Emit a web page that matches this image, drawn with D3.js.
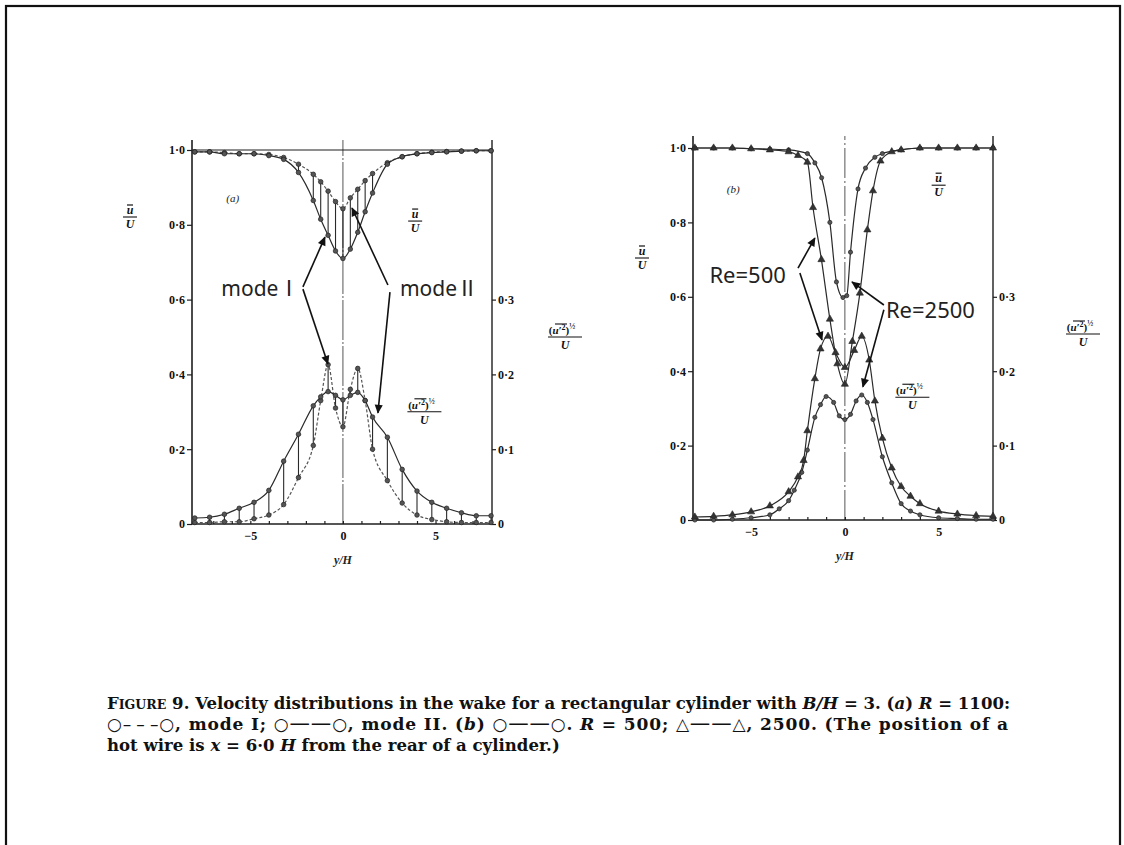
<!DOCTYPE html>
<html>
<head>
<meta charset="utf-8">
<script src="https://cdn.jsdelivr.net/npm/d3@7"></script>
<style>
  html, body { margin: 0; padding: 0; background: #fff; }
  svg { display: block; }
</style>
</head>
<body>
<svg id="fig" width="1124" height="845"></svg>
<script>
// ---------------- data ----------------
// (a) R = 1100, stations across the wake (y/H)
const gridA = [-8, -7.2, -6.4, -5.6, -4.8, -4.0, -3.2, -2.4, -1.6, -1.2, -0.8, -0.4, 0,
               0.4, 0.8, 1.2, 1.6, 2.4, 3.2, 4.0, 4.8, 5.6, 6.4, 7.2, 8];
// mean velocity u/U
const meanDeepA    = [0.995, 0.995, 0.99, 0.99, 0.99, 0.985, 0.975, 0.94, 0.865, 0.815, 0.772, 0.73, 0.71,
                      0.735, 0.78, 0.835, 0.885, 0.962, 0.982, 0.99, 0.993, 0.995, 0.997, 0.998, 0.998];
const meanShallowA = [0.995, 0.995, 0.993, 0.99, 0.99, 0.988, 0.98, 0.962, 0.935, 0.915, 0.89, 0.862, 0.843,
                      0.872, 0.895, 0.918, 0.937, 0.966, 0.982, 0.99, 0.994, 0.996, 0.997, 0.998, 0.998];
// r.m.s. fluctuation (u'^2)^1/2 / U
const flucSolidA   = [0.008, 0.009, 0.013, 0.021, 0.029, 0.045, 0.084, 0.12, 0.158, 0.17, 0.177, 0.172, 0.166,
                      0.172, 0.176, 0.165, 0.143, 0.116, 0.073, 0.044, 0.029, 0.021, 0.015, 0.011, 0.011];
const flucDottedA  = [0.002, 0.002, 0.003, 0.003, 0.007, 0.012, 0.026, 0.062, 0.105, 0.165, 0.213, 0.155, 0.13,
                      0.18, 0.208, 0.165, 0.1, 0.058, 0.028, 0.012, 0.006, 0.003, 0.002, 0.002, 0.002];

// (b) R = 500 and R = 2500
const meanDeepBx   = [-8, -7, -6, -5, -4, -3, -2.5, -2, -1.7, -1.25, -0.8, -0.4, 0, 0.4, 0.8, 1.2, 1.5, 1.9, 2.5, 3, 4, 5, 6, 7, 7.9];
const meanDeepB    = [1.0, 1.0, 1.0, 0.998, 0.995, 0.99, 0.98, 0.962, 0.84, 0.70, 0.54, 0.42, 0.365, 0.48, 0.61, 0.78, 0.885, 0.965, 0.99, 0.995, 1.0, 1.0, 1.0, 1.0, 1.0];
const meanShallowBx = [-8, -7, -6, -5, -4, -3, -2, -1.6, -1.24, -0.8, -0.45, -0.1, 0.1, 0.3, 0.7, 1.1, 1.6, 2, 3, 4, 5, 6, 7, 7.9];
const meanShallowB  = [1.0, 1.0, 1.0, 0.998, 0.997, 0.995, 0.985, 0.96, 0.92, 0.80, 0.64, 0.598, 0.603, 0.72, 0.89, 0.946, 0.975, 0.985, 0.995, 1.0, 1.0, 1.0, 1.0, 1.0];
const flucTallBx   = [-8, -7, -6, -5, -4, -3, -2.5, -2.2, -2, -1.6, -1.3, -0.9, -0.5, 0, 0.5, 0.9, 1.3, 1.6, 2, 2.5, 3, 3.5, 4, 5, 6, 7, 7.9];
const flucTallB    = [0.004, 0.005, 0.007, 0.011, 0.019, 0.038, 0.058, 0.08, 0.12, 0.19, 0.23, 0.247, 0.225, 0.205, 0.228, 0.247, 0.215, 0.16, 0.11, 0.07, 0.045, 0.032, 0.022, 0.012, 0.008, 0.006, 0.005];
const flucLowBx    = [-8, -7, -6, -5, -4, -3.5, -3, -2.7, -2.3, -2, -1.6, -1.3, -1, -0.6, -0.3, 0, 0.3, 0.6, 0.9, 1.2, 1.5, 2, 2.5, 3, 3.5, 4, 5, 6, 7, 7.9];
const flucLowB     = [0.0, 0.0, 0.001, 0.003, 0.007, 0.015, 0.026, 0.04, 0.064, 0.094, 0.138, 0.155, 0.166, 0.158, 0.14, 0.135, 0.142, 0.16, 0.168, 0.158, 0.135, 0.085, 0.05, 0.022, 0.012, 0.007, 0.003, 0.002, 0.001, 0.001];

// axis ticks
const leftTicks   = [0, 0.2, 0.4, 0.6, 0.8, 1.0];
const rightTicks  = [0, 0.1, 0.2, 0.3];
const minorXTicks = d3.range(-8, 9, 1);
const labelXTicks = [-5, 0, 5];

// ---------------- drawing ----------------
const svg = d3.select("#fig");
const INK = "#1e1e1e";
const SERIF = "'Liberation Serif', 'DejaVu Serif', serif";
const SANS = "'Noto Sans', 'Open Sans', sans-serif";
const NUMERAL = "'Noto Sans CJK SC', 'Noto Sans CJK JP', serif";

// outer frame
svg.append("rect").attr("x", 6).attr("y", 6).attr("width", 1114).attr("height", 900)
  .attr("fill", "none").attr("stroke", "#111").attr("stroke-width", 2.2);

const defs = svg.append("defs");
defs.append("marker").attr("id", "head").attr("viewBox", "0 0 10 10")
  .attr("refX", 9).attr("refY", 5).attr("markerWidth", 11).attr("markerHeight", 9)
  .attr("markerUnits", "userSpaceOnUse").attr("orient", "auto")
  .append("path").attr("d", "M0,0.5 L10,5 L0,9.5 Z").attr("fill", "#111");

const fmt = v => (v === 0 ? "0" : d3.format(".1f")(v).replace(".", "·"));

function panel(cfg) {
  const g = svg.append("g");
  const x  = d3.scaleLinear().domain(cfg.xDomain).range([cfg.x0, cfg.x1]);
  const yL = d3.scaleLinear().domain([0, 1]).range([cfg.yBase, cfg.yOne]);
  const yR = d3.scaleLinear().domain([0, 0.5]).range([cfg.yBase, cfg.yOne]);

  // frame lines
  g.append("line").attr("x1", cfg.x0).attr("x2", cfg.x0).attr("y1", cfg.yBase).attr("y2", cfg.top)
    .attr("stroke", INK).attr("stroke-width", 1.6);
  g.append("line").attr("x1", cfg.x1).attr("x2", cfg.x1).attr("y1", cfg.yBase).attr("y2", cfg.top)
    .attr("stroke", INK).attr("stroke-width", 1.4);
  g.append("line").attr("x1", x(0)).attr("x2", x(0)).attr("y1", cfg.yBase).attr("y2", cfg.top)
    .attr("stroke", "#555").attr("stroke-width", 1).attr("stroke-dasharray", cfg.centerDash);
  if (cfg.topLine) {
    g.append("line").attr("x1", cfg.x0).attr("x2", cfg.x1).attr("y1", yL(1)).attr("y2", yL(1))
      .attr("stroke", INK).attr("stroke-width", 1.2);
  }

  // axes
  const axL = g.append("g").attr("transform", `translate(${cfg.x0},0)`)
    .call(d3.axisLeft(yL).tickValues(leftTicks).tickFormat(fmt).tickSize(5).tickPadding(2));
  const axR = g.append("g").attr("transform", `translate(${cfg.x1},0)`)
    .call(d3.axisRight(yR).tickValues(rightTicks).tickFormat(fmt).tickSize(4).tickPadding(2));
  const axB = g.append("g").attr("transform", `translate(0,${cfg.yBase})`)
    .call(d3.axisBottom(x).tickValues(minorXTicks).tickSize(-3).tickFormat(""));
  const axBL = g.append("g").attr("transform", `translate(0,${cfg.yBase})`)
    .call(d3.axisBottom(x).tickValues(labelXTicks).tickSize(0).tickPadding(7)
      .tickFormat(d => (d < 0 ? "−" + Math.abs(d) : d)));
  [axL, axR, axB, axBL].forEach(a => {
    a.selectAll(".domain").remove();
    a.selectAll("line").attr("stroke", INK).attr("stroke-width", 1.2);
    a.selectAll("text").attr("fill", "#111").attr("font-family", SERIF)
      .attr("font-weight", "bold").attr("font-size", 12);
  });
  axB.append("line").attr("x1", cfg.x0).attr("x2", cfg.x1).attr("stroke", INK).attr("stroke-width", 1.6);

  g.append("text").attr("x", x(0)).attr("y", cfg.yBase + 40).attr("text-anchor", "middle")
    .attr("font-family", SERIF).attr("font-style", "italic").attr("font-weight", "bold")
    .attr("font-size", 12).attr("fill", "#222").text("y/H");

  return {g, x, yL, yR};
}

function ubar(g, cx, cy) {
  const t = g.append("g").attr("fill", "#111").attr("font-family", SERIF)
    .attr("font-style", "italic").attr("font-weight", "bold").attr("font-size", 12);
  t.append("text").attr("x", cx).attr("y", cy - 3).attr("text-anchor", "middle").text("u");
  t.append("line").attr("x1", cx - 3).attr("x2", cx + 3).attr("y1", cy - 12).attr("y2", cy - 12)
    .attr("stroke", "#111").attr("stroke-width", 1.2);
  t.append("line").attr("x1", cx - 7).attr("x2", cx + 7).attr("y1", cy).attr("y2", cy)
    .attr("stroke", "#111").attr("stroke-width", 1.1);
  t.append("text").attr("x", cx).attr("y", cy + 11).attr("text-anchor", "middle").text("U");
}

function rms(g, cx, cy) {
  const t = g.append("g").attr("fill", "#111").attr("font-family", SERIF)
    .attr("font-weight", "bold").attr("font-size", 11);
  const n = t.append("text").attr("x", cx - 3).attr("y", cy - 3).attr("text-anchor", "middle");
  n.append("tspan").text("(");
  n.append("tspan").attr("font-style", "italic").text("u′");
  n.append("tspan").attr("dy", -4).attr("font-size", 8).text("2");
  n.append("tspan").attr("dy", 4).text(")");
  n.append("tspan").attr("dy", -5).attr("font-size", 8).text("½");
  t.append("line").attr("x1", cx - 10).attr("x2", cx + 2).attr("y1", cy - 13).attr("y2", cy - 13)
    .attr("stroke", "#111").attr("stroke-width", 1.1);
  t.append("line").attr("x1", cx - 17).attr("x2", cx + 17).attr("y1", cy).attr("y2", cy)
    .attr("stroke", "#111").attr("stroke-width", 1.1);
  t.append("text").attr("x", cx).attr("y", cy + 12).attr("text-anchor", "middle")
    .attr("font-style", "italic").attr("font-size", 12).text("U");
}

function series(p, xs, ys, yScale, opts) {
  const pts = xs.map((d, i) => [d, ys[i]]);
  const line = d3.line().x(d => p.x(d[0])).y(d => yScale(d[1])).curve(d3.curveMonotoneX);
  p.g.append("path").datum(pts).attr("d", line).attr("fill", "none")
    .attr("stroke", opts.stroke || "#2a2a2a").attr("stroke-width", opts.width || 1.2)
    .attr("stroke-dasharray", opts.dash || null);
  const mk = p.g.append("g");
  if (opts.marker === "tri") {
    mk.selectAll("path").data(pts).join("path")
      .attr("d", d3.symbol().type(d3.symbolTriangle).size(22))
      .attr("transform", d => `translate(${p.x(d[0])},${yScale(d[1])})`)
      .attr("fill", "#333").attr("stroke", "#222").attr("stroke-width", 0.6);
  } else if (opts.marker === "dot") {
    mk.selectAll("circle").data(pts).join("circle")
      .attr("cx", d => p.x(d[0])).attr("cy", d => yScale(d[1])).attr("r", opts.r || 2.3)
      .attr("fill", opts.fill || "#555").attr("stroke", "#222").attr("stroke-width", 0.7);
  }
}

function connectors(p, xs, a, b, yScale) {
  p.g.append("g").selectAll("line").data(xs).join("line")
    .attr("x1", d => p.x(d)).attr("x2", d => p.x(d))
    .attr("y1", (d, i) => yScale(a[i])).attr("y2", (d, i) => yScale(b[i]))
    .attr("stroke", "#2a2a2a").attr("stroke-width", 1.1);
}

function arrow(p, yScale, from, to) {
  p.g.append("line")
    .attr("x1", p.x(from[0])).attr("y1", yScale(from[1]))
    .attr("x2", p.x(to[0])).attr("y2", yScale(to[1]))
    .attr("stroke", "#111").attr("stroke-width", 1.6).attr("marker-end", "url(#head)");
}

function note(p, yScale, at, word, numeral, anchor, size) {
  const t = p.g.append("text").attr("x", p.x(at[0])).attr("y", yScale(at[1]))
    .attr("text-anchor", anchor).attr("font-family", SANS)
    .attr("font-size", size).attr("fill", "#222");
  t.append("tspan").text(word);
  if (numeral) t.append("tspan").attr("font-family", NUMERAL).text(numeral);
}

// ---- panel (a)
const A = panel({x0: 192, x1: 492, yBase: 524, yOne: 150, top: 140, xDomain: [-8.15, 8.05],
                 topLine: true, centerDash: "40,2,2,2"});
connectors(A, gridA, meanDeepA, meanShallowA, A.yL);
connectors(A, gridA, flucSolidA, flucDottedA, A.yR);
series(A, gridA, meanShallowA, A.yL, {marker: "dot", dash: "3,2", stroke: "#555"});
series(A, gridA, meanDeepA, A.yL, {marker: "dot"});
series(A, gridA, flucDottedA, A.yR, {marker: "dot", dash: "3,2", stroke: "#555"});
series(A, gridA, flucSolidA, A.yR, {marker: "dot"});

A.g.append("text").attr("x", A.x(-6.3)).attr("y", A.yL(0.86)).attr("font-family", SERIF)
  .attr("font-style", "italic").attr("font-size", 11).attr("fill", "#222").text("(a)");
ubar(A.g, 130, 217);
ubar(A.g, A.x(3.9), A.yL(0.81));
rms(A.g, 565, 337);
rms(A.g, A.x(4.4), A.yR(0.15));

note(A, A.yL, [-2.35, 0.61], "mode", "Ⅰ", "end", 21);
note(A, A.yL, [3.08, 0.61], "mode", "Ⅱ", "start", 21);
arrow(A, A.yL, [-2.16, 0.634], [-0.97, 0.767]);
arrow(A, A.yL, [-2.16, 0.628], [-0.81, 0.428]);
arrow(A, A.yL, [2.43, 0.639], [0.49, 0.845]);
arrow(A, A.yL, [2.54, 0.62], [1.89, 0.297]);

// ---- panel (b)
const B = panel({x0: 693, x1: 993, yBase: 520, yOne: 148, top: 136, xDomain: [-8.1, 7.9],
                 topLine: false, centerDash: "30,3,2,3"});
series(B, meanShallowBx, meanShallowB, B.yL, {marker: "dot", r: 2.1});
series(B, meanDeepBx, meanDeepB, B.yL, {marker: "tri"});
series(B, flucLowBx, flucLowB, B.yR, {marker: "dot", r: 2.1});
series(B, flucTallBx, flucTallB, B.yR, {marker: "tri"});

B.g.append("text").attr("x", B.x(-6.3)).attr("y", B.yL(0.88)).attr("font-family", SERIF)
  .attr("font-style", "italic").attr("font-size", 11).attr("fill", "#222").text("(b)");
ubar(B.g, 642, 258);
ubar(B.g, B.x(5.0), B.yL(0.9));
rms(B.g, 1083, 334);
rms(B.g, B.x(3.6), B.yR(0.165));

note(B, B.yL, [-3.15, 0.637], "Re=500", null, "end", 22);
note(B, B.yL, [2.19, 0.543], "Re=2500", null, "start", 22);
arrow(B, B.yL, [-2.5, 0.677], [-1.6, 0.758]);
arrow(B, B.yL, [-2.4, 0.664], [-1.22, 0.484]);
arrow(B, B.yL, [2.08, 0.578], [0.38, 0.64]);
arrow(B, B.yL, [2.08, 0.565], [0.96, 0.358]);

// ---- caption (three lines, the first two set full width)
const cap = svg.append("g").attr("font-family", "'DejaVu Serif', serif").attr("font-weight", "bold")
  .attr("font-size", 16).attr("fill", "#111");

function runs(textSel, parts) {
  parts.forEach(([s, style]) => {
    const ts = textSel.append("tspan").text(s);
    if (style === "i") ts.attr("font-style", "italic");
    if (style === "sc") ts.attr("font-size", "0.76em");
    if (style === "sym") ts.attr("font-weight", "normal").attr("font-family", "'DejaVu Sans', sans-serif");
    if (style === "rule") ts.attr("font-weight", "normal").attr("font-family", "'DejaVu Sans', sans-serif")
      .attr("font-size", "1.2em");
  });
  return textSel;
}

const l1 = runs(cap.append("text").attr("x", 107).attr("y", 709), [
  ["F"], ["IGURE", "sc"], [" 9. Velocity distributions in the wake for a rectangular cylinder with "],
  ["B/H", "i"], [" = 3. ("], ["a", "i"], [") "], ["R", "i"], [" = 1100:"]
]);
const l2 = runs(cap.append("text").attr("x", 107).attr("y", 730), [
  ["○", "sym"], ["–\u2009–\u2009–", "sym"], ["○", "sym"], [", mode I; "],
  ["○", "sym"], ["——", "rule"], ["○", "sym"], [", mode II. ("], ["b", "i"], [") "],
  ["○", "sym"], ["——", "rule"], ["○", "sym"], [". "], ["R", "i"], [" = 500; "],
  ["△", "sym"], ["——", "rule"], ["△", "sym"], [", 2500. (The position of a"]
]);
const l3 = runs(cap.append("text").attr("x", 107).attr("y", 751), [
  ["hot wire is "], ["x", "i"], [" = 6·0 "], ["H", "i"], [" from the rear of a cylinder.)"]
]);

// size the caption to its measure; the first two lines end flush at the right
function fitSize(t, target, size) {
  for (let k = 0; k < 3; k++) {
    t.attr("font-size", size);
    size = size * target / t.node().getComputedTextLength();
  }
  return size;
}
const size1 = fitSize(l1, 903, 16);
l1.attr("font-size", size1).attr("textLength", 903).attr("lengthAdjust", "spacing");
l3.attr("font-size", size1);
const size2 = Math.max(size1 * 0.97, Math.min(size1 * 1.03, fitSize(l2, 901, size1)));
l2.attr("font-size", size2).attr("textLength", 901).attr("lengthAdjust", "spacing");
</script>
</body>
</html>
